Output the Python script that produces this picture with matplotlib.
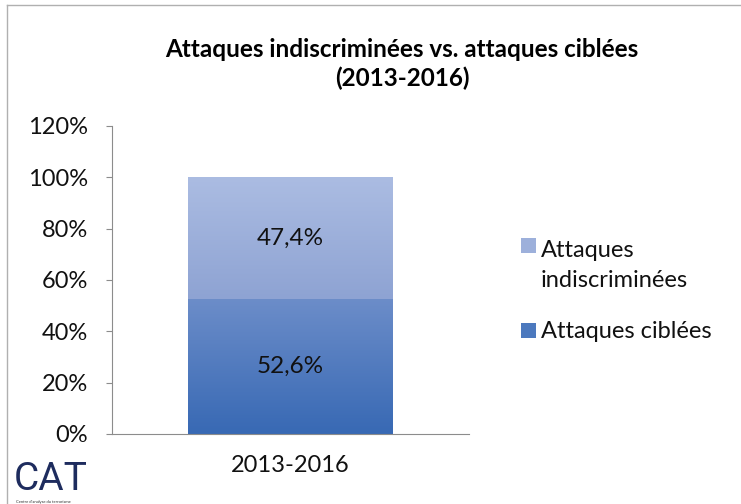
import matplotlib.pyplot as plt
import matplotlib.colors as mcolors
import numpy as np
from matplotlib.lines import Line2D
from matplotlib.patches import Rectangle

plt.rcParams["font.family"] = ["Lato", "DejaVu Sans"]

CATEGORIES = ["2013-2016"]
SERIES = ["Attaques\nindiscriminées", "Attaques ciblées"]
CIBLEES = [52.6]
INDISCRIMINEES = [47.4]
Y_TICKS = [0, 20, 40, 60, 80, 100, 120]

TITLE = "Attaques indiscriminées vs. attaques ciblées\n(2013-2016)"

# gradient colours (top, bottom) per series
GRAD_CIBLEES = ("#6C8DC9", "#3869B4")
GRAD_INDISC = ("#ABBCE2", "#8EA3D3")

W, H = 741, 504


def px(x, y):
    # pixel position (from top left) -> figure fraction
    return x / W, 1 - y / H


def gradient_fill(ax, patch, top, bottom):
    x0, y0 = patch.get_x(), patch.get_y()
    w, h = patch.get_width(), patch.get_height()
    c_top = np.array(mcolors.to_rgb(top))
    c_bot = np.array(mcolors.to_rgb(bottom))
    t = np.linspace(0, 1, 128)[:, None]
    img = (c_top * (1 - t) + c_bot * t)[:, None, :]
    im = ax.imshow(img, extent=(x0, x0 + w, y0, y0 + h), aspect="auto",
                   origin="upper", zorder=2)
    im.set_clip_path(patch)
    patch.set_facecolor("none")


fig = plt.figure(figsize=(W / 100, H / 100), dpi=100)
ax = fig.add_axes([112 / W, 1 - 434 / H, 357 / W, 308 / H])

x = np.arange(len(CATEGORIES))
width = 0.574
bars_low = ax.bar(x, CIBLEES, width, color=GRAD_CIBLEES[1], linewidth=0, zorder=1)
bars_high = ax.bar(x, INDISCRIMINEES, width, bottom=CIBLEES,
                   color=GRAD_INDISC[1], linewidth=0, zorder=1)

for p in bars_low:
    gradient_fill(ax, p, *GRAD_CIBLEES)
for p in bars_high:
    gradient_fill(ax, p, *GRAD_INDISC)

for i in range(len(CATEGORIES)):
    ax.text(x[i], CIBLEES[i] / 2, f"{CIBLEES[i]:.1f}%".replace(".", ","),
            ha="center", va="center", fontsize=17.5, color="#111111", zorder=3)
    ax.text(x[i], CIBLEES[i] + INDISCRIMINEES[i] / 2,
            f"{INDISCRIMINEES[i]:.1f}%".replace(".", ","),
            ha="center", va="center", fontsize=17.5, color="#111111", zorder=3)

ax.set_xlim(-0.5, 0.5)
ax.set_ylim(0, 120)
ax.set_yticks(Y_TICKS)
ax.set_yticklabels([f"{v}%" for v in Y_TICKS], fontsize=17, color="#111111")
ax.set_xticks(x)
ax.set_xticklabels(CATEGORIES, fontsize=17, color="#111111")

for s in ["top", "right"]:
    ax.spines[s].set_visible(False)
ax.spines["left"].set_color("#8c8c8c")
ax.spines["bottom"].set_color("#8c8c8c")
ax.tick_params(axis="y", length=4.5, color="#8c8c8c", pad=13)
ax.tick_params(axis="x", length=0, pad=15)

fig.text(*px(402, 64), TITLE, ha="center", va="center", fontsize=17.5,
         fontweight="bold", linespacing=1.25)

# legend, drawn by hand so the square sits on the first line of the label
legend_items = [
    (SERIES[0], "#9DB0DB", 238, 257),
    (SERIES[1], "#4C79BE", 323, 338),
]
for label, color, sq_top, baseline in legend_items:
    fig.add_artist(Rectangle(px(521, sq_top + 15), 15 / W, 15 / H,
                             transform=fig.transFigure, facecolor=color,
                             edgecolor="none"))
    first, *rest = label.split("\n")
    fig.text(*px(541, baseline), first, ha="left", va="baseline",
             fontsize=17, color="#111111")
    for k, line in enumerate(rest, start=1):
        fig.text(*px(541, baseline + 30 * k), line, ha="left",
                 va="baseline", fontsize=17, color="#111111")

# frame lines
fig.add_artist(Line2D([7 / W, 1.0], [1 - 5 / H, 1 - 5 / H], color="#b0b0b0", lw=1))
fig.add_artist(Line2D([7 / W, 7 / W], [1 - 5 / H, 0.0], color="#b0b0b0", lw=1))

# logo
fig.text(*px(14, 490), "CAT", fontsize=28, color="#1e2c5e",
         family=["Roboto", "DejaVu Sans"], ha="left", va="baseline")
fig.text(*px(16, 503), "Centre d'analyse du terrorisme", fontsize=3,
         color="#333333", ha="left", va="baseline")

fig.savefig("out.png", dpi=100)
